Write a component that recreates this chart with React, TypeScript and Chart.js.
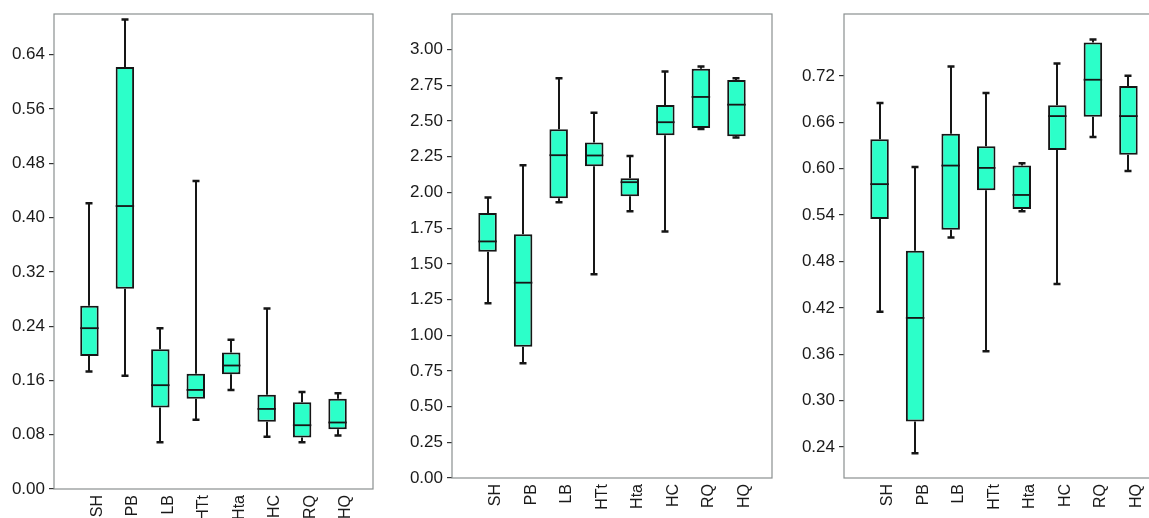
import React, { useEffect, useRef } from "react";
import { Chart, registerables } from "chart.js";

Chart.register(...registerables);

// ---- Data ----
const categories = ["", "SH", "PB", "LB", "HTt", "Hta", "HC", "RQ", "HQ", ""];

// Panel 1
const p1Min = [0.173, 0.167, 0.069, 0.102, 0.146, 0.077, 0.069, 0.079];
const p1Q1 = [0.196, 0.295, 0.120, 0.133, 0.169, 0.099, 0.076, 0.088];
const p1Med = [0.237, 0.417, 0.153, 0.146, 0.182, 0.118, 0.094, 0.098];
const p1Q3 = [0.270, 0.622, 0.206, 0.170, 0.201, 0.139, 0.128, 0.133];
const p1Max = [0.421, 0.692, 0.237, 0.454, 0.220, 0.266, 0.143, 0.141];
const p1Ticks = [0.0, 0.08, 0.16, 0.24, 0.32, 0.4, 0.48, 0.56, 0.64];

// Panel 2
const p2Min = [1.224, 0.804, 1.932, 1.427, 1.869, 1.727, 2.445, 2.385];
const p2Q1 = [1.584, 0.920, 1.960, 2.184, 1.974, 2.401, 2.452, 2.394];
const p2Med = [1.657, 1.368, 2.261, 2.259, 2.072, 2.492, 2.669, 2.615];
const p2Q3 = [1.857, 1.708, 2.443, 2.350, 2.100, 2.613, 2.867, 2.788];
const p2Max = [1.965, 2.191, 2.800, 2.559, 2.256, 2.848, 2.883, 2.800];
const p2Ticks = [0, 0.25, 0.5, 0.75, 1.0, 1.25, 1.5, 1.75, 2.0, 2.25, 2.5, 2.75, 3.0];

// Panel 3
const p3Min = [0.415, 0.232, 0.511, 0.364, 0.545, 0.451, 0.641, 0.597];
const p3Q1 = [0.535, 0.273, 0.521, 0.572, 0.548, 0.624, 0.667, 0.618];
const p3Med = [0.580, 0.407, 0.604, 0.601, 0.566, 0.668, 0.715, 0.668];
const p3Q3 = [0.638, 0.494, 0.645, 0.629, 0.604, 0.682, 0.763, 0.707];
const p3Max = [0.685, 0.602, 0.732, 0.698, 0.607, 0.736, 0.767, 0.720];
const p3Ticks = [0.24, 0.3, 0.36, 0.42, 0.48, 0.54, 0.6, 0.66, 0.72];

const BOX_FILL = "#2cffc9";
const LINE = "#161616";
const FRAME = "#8a9090";
const FONT = "'Liberation Sans', Arial, sans-serif";

type PanelProps = {
  mins: number[];
  q1: number[];
  med: number[];
  q3: number[];
  maxs: number[];
  ticks: number[];
  yMin: number;
  yMax: number;
  left: number;
  width: number;
  yAxisWidth: number;
  xAxisHeight: number;
};

const boxPlugin = {
  id: "boxExtras",
  beforeDatasetsDraw(chart: any) {
    const d = chart.$box;
    if (!d) return;
    const { ctx, scales } = chart;
    const x = scales.x;
    const y = scales.y;
    ctx.save();
    ctx.strokeStyle = LINE;
    ctx.lineWidth = 2;
    for (let i = 0; i < d.mins.length; i++) {
      const cx = Math.round(x.getPixelForValue(i + 1));
      const yMin = y.getPixelForValue(d.mins[i]);
      const yQ1 = y.getPixelForValue(d.q1[i]);
      const yQ3 = y.getPixelForValue(d.q3[i]);
      const yMax = y.getPixelForValue(d.maxs[i]);
      ctx.beginPath();
      ctx.moveTo(cx, yQ1);
      ctx.lineTo(cx, yMin);
      ctx.moveTo(cx, yQ3);
      ctx.lineTo(cx, yMax);
      ctx.stroke();
      ctx.beginPath();
      ctx.lineWidth = 2.5;
      ctx.moveTo(cx - 3.5, yMin);
      ctx.lineTo(cx + 3.5, yMin);
      ctx.moveTo(cx - 3.5, yMax);
      ctx.lineTo(cx + 3.5, yMax);
      ctx.stroke();
      ctx.lineWidth = 2;
    }
    ctx.restore();
  },
  afterDatasetsDraw(chart: any) {
    const d = chart.$box;
    if (!d) return;
    const { ctx, scales, chartArea } = chart;
    const x = scales.x;
    const y = scales.y;
    ctx.save();
    ctx.strokeStyle = LINE;
    ctx.lineWidth = 1.8;
    const meta = chart.getDatasetMeta(0);
    for (let i = 0; i < d.med.length; i++) {
      const el = meta.data[i + 1];
      const cx = x.getPixelForValue(i + 1);
      const half = el ? el.width / 2 : 9;
      const ym = y.getPixelForValue(d.med[i]);
      ctx.beginPath();
      ctx.moveTo(cx - half, ym);
      ctx.lineTo(cx + half, ym);
      ctx.stroke();
    }
    // frame
    ctx.strokeStyle = FRAME;
    ctx.lineWidth = 1.2;
    ctx.strokeRect(
      chartArea.left,
      chartArea.top,
      chartArea.right - chartArea.left,
      chartArea.bottom - chartArea.top
    );
    ctx.restore();
  },
};

function BoxPanel(props: PanelProps) {
  const ref = useRef<HTMLCanvasElement>(null);
  useEffect(() => {
    if (!ref.current) return;
    const boxData: any[] = [null];
    for (let i = 0; i < props.q1.length; i++) boxData.push([props.q1[i], props.q3[i]]);
    boxData.push(null);
    const chart: any = new Chart(ref.current, {
      type: "bar",
      data: {
        labels: categories,
        datasets: [
          {
            data: boxData,
            backgroundColor: BOX_FILL,
            borderColor: LINE,
            borderWidth: 2,
            borderSkipped: false,
            barPercentage: 0.52,
            categoryPercentage: 1,
          },
        ],
      },
      options: {
        animation: false,
        responsive: false,
        maintainAspectRatio: false,
        layout: { padding: { top: 14, right: 7, left: 0, bottom: 0 } },
        plugins: {
          legend: { display: false },
          tooltip: { enabled: false },
        },
        scales: {
          x: {
            type: "category",
            offset: false,
            grid: { display: false, drawTicks: false },
            border: { display: false },
            ticks: {
              autoSkip: false,
              minRotation: 90,
              maxRotation: 90,
              padding: 6,
              labelOffset: 8,
              color: "#1a1a1a",
              font: { family: FONT, size: 16 },
            },
            afterFit: (s: any) => {
              s.height = props.xAxisHeight;
              s.paddingLeft = 0;
              s.paddingRight = 0;
            },
          },
          y: {
            min: props.yMin,
            max: props.yMax,
            grid: {
              drawOnChartArea: false,
              drawTicks: true,
              tickLength: 5,
              color: "#333",
              lineWidth: 1.2,
            },
            border: { display: false },
            ticks: {
              padding: 4,
              color: "#1a1a1a",
              font: { family: FONT, size: 17 },
              callback: (v: any) => Number(v).toFixed(2),
            },
            afterBuildTicks: (s: any) => {
              s.ticks = props.ticks.map((v) => ({ value: v }));
            },
            afterFit: (s: any) => {
              s.width = props.yAxisWidth;
              s.paddingTop = 0;
              s.paddingBottom = 0;
            },
          },
        },
      },
      plugins: [boxPlugin],
    });
    chart.$box = {
      mins: props.mins,
      q1: props.q1,
      med: props.med,
      q3: props.q3,
      maxs: props.maxs,
    };
    chart.draw();
    return () => chart.destroy();
  }, []);
  return (
    <canvas
      ref={ref}
      width={props.width}
      height={518}
      style={{ position: "absolute", left: props.left, top: 0, width: props.width, height: 518 }}
    />
  );
}

export default function App() {
  return (
    <div
      style={{
        position: "fixed",
        left: 0,
        top: 0,
        width: 1149,
        height: 518,
        overflow: "hidden",
        background: "#fff",
      }}
    >
      <BoxPanel
        mins={p1Min}
        q1={p1Q1}
        med={p1Med}
        q3={p1Q3}
        maxs={p1Max}
        ticks={p1Ticks}
        yMin={0}
        yMax={0.7}
        left={0}
        width={380}
        yAxisWidth={54}
        xAxisHeight={29}
      />
      <BoxPanel
        mins={p2Min}
        q1={p2Q1}
        med={p2Med}
        q3={p2Q3}
        maxs={p2Max}
        ticks={p2Ticks}
        yMin={0}
        yMax={3.25}
        left={395}
        width={384}
        yAxisWidth={57}
        xAxisHeight={40}
      />
      <BoxPanel
        mins={p3Min}
        q1={p3Q1}
        med={p3Med}
        q3={p3Q3}
        maxs={p3Max}
        ticks={p3Ticks}
        yMin={0.2}
        yMax={0.8}
        left={785}
        width={386}
        yAxisWidth={59}
        xAxisHeight={40}
      />
    </div>
  );
}
